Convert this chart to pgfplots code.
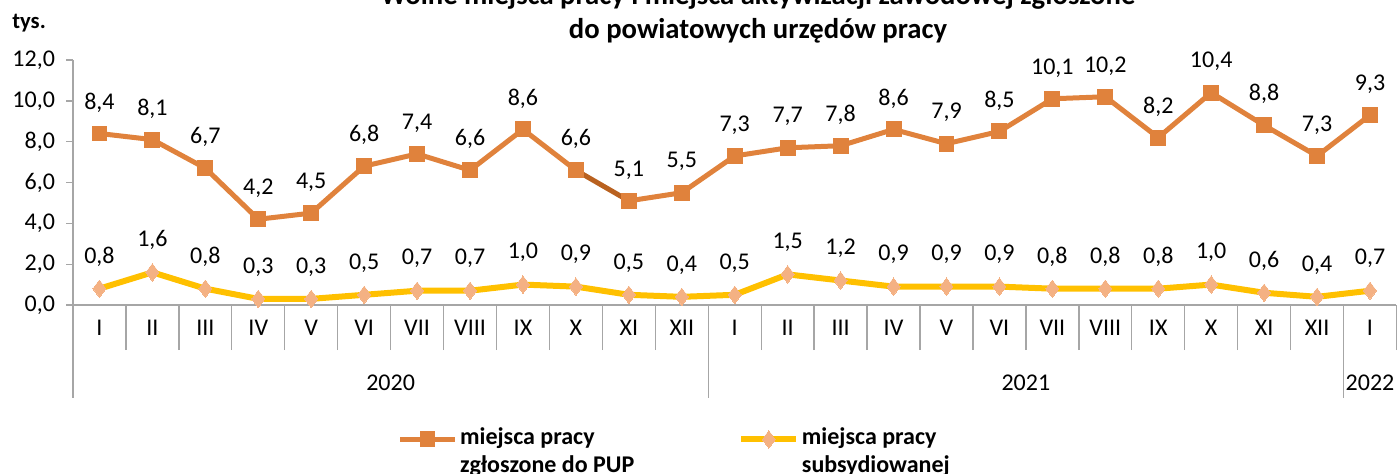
\documentclass[border=0pt]{standalone}
\usepackage{fontspec}
\setmainfont{Carlito}
\usepackage{pgfplots}
\pgfplotsset{compat=1.18}
\definecolor{orangeL}{HTML}{E0823C}
\definecolor{orangeD}{HTML}{B9611F}
\definecolor{yellowL}{HTML}{FFC000}
\definecolor{diam}{HTML}{F4B183}
\definecolor{axgray}{HTML}{A6A6A6}
\newcommand\lbl{\fontsize{18}{21}\selectfont}

% wolne miejsca pracy zgloszone do PUP (tys.)
\pgfplotstableread{
x y
0 8.4
1 8.1
2 6.7
3 4.2
4 4.5
5 6.8
6 7.4
7 6.6
8 8.6
9 6.6
9.5 nan
10 5.1
11 5.5
12 7.3
13 7.7
14 7.8
15 8.6
16 7.9
17 8.5
18 10.1
19 10.2
20 8.2
21 10.4
22 8.8
23 7.3
24 9.3
}\zgloszone

% miejsca pracy subsydiowanej (tys.)
\pgfplotstableread{
x y
0 0.8
1 1.6
2 0.8
3 0.3
4 0.3
5 0.5
6 0.7
7 0.7
8 1.0
9 0.9
10 0.5
11 0.4
12 0.5
13 1.5
14 1.2
15 0.9
16 0.9
17 0.9
18 0.8
19 0.8
20 0.8
21 1.0
22 0.6
23 0.4
24 0.7
}\subsyd

\begin{document}
\begin{tikzpicture}
\begin{axis}[
    at={(54.75pt,-228.75pt)}, anchor=south west,
    scale only axis, width=992.6pt, height=183.75pt,
    xmin=-0.5, xmax=24.5, ymin=0, ymax=12,
    axis x line*=bottom, axis y line*=left,
    axis line style={axgray, line width=1.1pt},
    clip=false,
    font=\lbl,
    ytick={0,2,...,12},
    /pgf/number format/.cd, fixed, fixed zerofill, precision=1, use comma, assume math mode=true,
    /pgfplots/.cd,
    tick align=outside,
    major tick length=5pt,
    minor tick length=33.75pt,
    tick style={axgray, line width=1pt},
    xtick={0,...,24},
    xticklabels={I,II,III,IV,V,VI,VII,VIII,IX,X,XI,XII,I,II,III,IV,V,VI,VII,VIII,IX,X,XI,XII,I},
    major x tick style={draw=none},
    minor xtick={-0.5,0.5,...,24.5},
    xticklabel style={anchor=base, yshift=-18pt},
    yticklabel style={xshift=-5pt},
    unbounded coords=jump,
    legend columns=2,
    legend style={at={(0.245,-0.49)}, anchor=north west, draw=none, fill=none,
        font=\lbl\bfseries, inner sep=0pt,
        nodes={align=left, inner sep=2pt},
        /tikz/every even column/.append style={column sep=76pt}},
    legend image code/.code={
        \draw[mark repeat=2, mark phase=2, yshift=9pt, #1] plot coordinates {(0pt,0pt) (20.6pt,0pt) (41.2pt,0pt)};
    },
]
\addplot[orangeD, line width=3.75pt, forget plot] coordinates {(9,6.6) (10,5.1)};
\addplot[orangeL, line width=3.75pt, mark=square*, mark size=5.6pt,
    mark options={line width=0pt, fill=orangeL, draw=orangeL},
    nodes near coords,
    every node near coord/.append style={anchor=center, yshift=23.25pt, text=black, font=\lbl}]
    table[x=x, y=y] {\zgloszone};
\addlegendentry{miejsca pracy\\zgłoszone do PUP}
\addplot[yellowL, line width=4.5pt, mark=diamond*, mark size=6.5pt,
    mark options={line width=0pt, fill=diam, draw=diam},
    nodes near coords,
    every node near coord/.append style={anchor=center, yshift=24pt, text=black, font=\lbl}]
    table[x=x, y=y] {\subsyd};
\addlegendentry{miejsca pracy\\subsydiowanej}
\draw[axgray, line width=1pt] (axis cs:-0.5,0) -- ++(0pt,-69.75pt);
\draw[axgray, line width=1pt] (axis cs:11.5,0) -- ++(0pt,-69.75pt);
\draw[axgray, line width=1pt] (axis cs:23.5,0) -- ++(0pt,-69.75pt);
\node[font=\lbl] at (axis cs:5.5,-3.82) {2020};
\node[font=\lbl] at (axis cs:17.5,-3.82) {2021};
\node[font=\lbl] at (axis cs:24,-3.82) {2022};
\end{axis}
\node[anchor=base, font=\fontsize{21.5}{24}\selectfont\bfseries] at (568.5pt,-3.75pt) {Wolne miejsca pracy i miejsca aktywizacji zawodowej zgłoszone};
\node[anchor=base, font=\fontsize{21.5}{24}\selectfont\bfseries] at (568.5pt,-29.25pt) {do powiatowych urzędów pracy};
\node[anchor=base west, inner sep=0pt, font=\fontsize{17}{20}\selectfont\bfseries] at (9pt,-21.75pt) {tys.};
\pgfresetboundingbox
\useasboundingbox (0pt,0pt) rectangle (1047.75pt,-355.5pt);
\end{tikzpicture}
\end{document}
